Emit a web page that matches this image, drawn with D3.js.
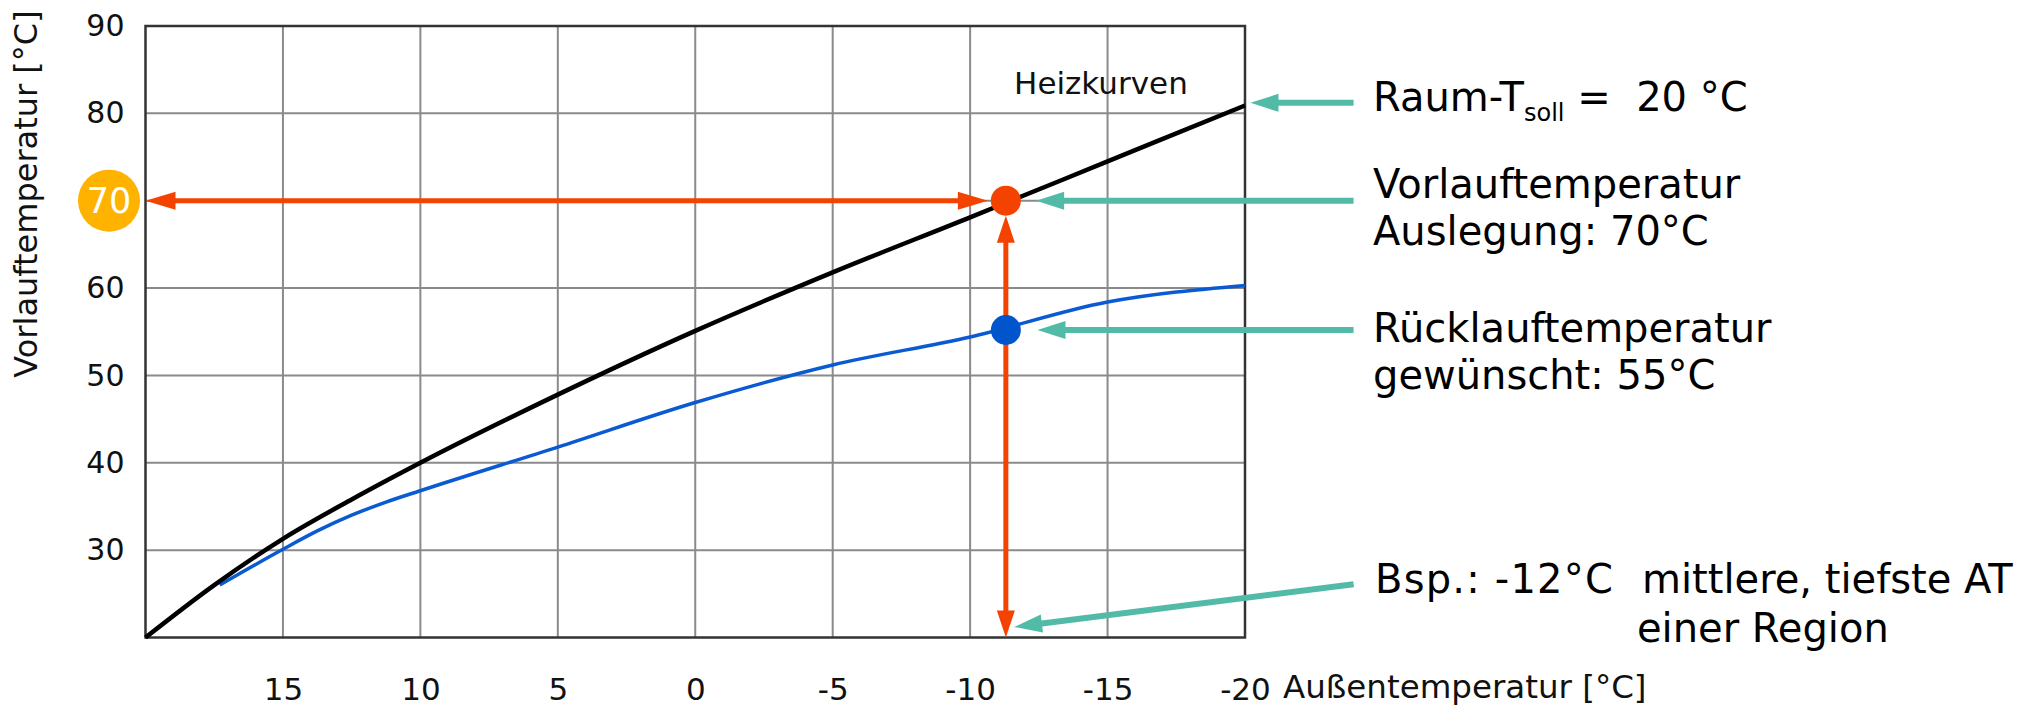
<!DOCTYPE html>
<html>
<head>
<meta charset="utf-8">
<script src="https://cdn.jsdelivr.net/npm/d3@7"></script>
<style>
  html, body { margin: 0; padding: 0; background: #fff; }
  svg { display: block; }
  text { font-family: "DejaVu Sans", Verdana, sans-serif; }
</style>
</head>
<body>
<svg id="chart" width="2040" height="707"></svg>
<script>
// ---- data ----
const xTicks = [15, 10, 5, 0, -5, -10, -15, -20];
const yTicks = [30, 40, 50, 60, 80, 90];
const xGrid = [15, 10, 5, 0, -5, -10, -15];
const yGrid = [30, 40, 50, 60, 70, 80];

// Heizkurve (Vorlauf) — black
const flowX = [20, 17.5, 15, 12.5, 10, 5, 0, -5, -10, -15, -20];
const flowY = [20, 26.0, 31.3, 35.8, 40.0, 47.8, 55.1, 61.8, 68.1, 74.5, 80.9];
// Rücklauf — blue
const returnX = [17.3, 15, 13.75, 12.5, 11.25, 10, 5, 0, -5, -10, -15, -20];
const returnY = [26.0, 30.1, 32.2, 34.0, 35.5, 36.8, 41.8, 46.9, 51.2, 54.4, 58.4, 60.3];

// design point
const designX = -11.3;
const designFlow = 70;
const designReturn = 55.2;
const badgeLabel = "70";

// annotation texts
const noteLines = [
  "Vorlauftemperatur", "Auslegung: 70°C",
  "Rücklauftemperatur", "gewünscht: 55°C",
  "Bsp.: -12°C", "mittlere, tiefste AT", "einer Region"
];

// ---- layout ----
const svg = d3.select("#chart");
const x = d3.scaleLinear().domain([20, -20]).range([145.5, 1245]);
const y = d3.scaleLinear().domain([20, 90]).range([637.5, 26]);

const gridColor = "#8a8a8a";
const frameColor = "#333";
const orange = "#f44200";
const teal = "#52bba8";
const blue = "#0a5ad2";

// grid
svg.append("g").selectAll("line").data(xGrid).join("line")
  .attr("x1", d => x(d)).attr("x2", d => x(d))
  .attr("y1", y(90)).attr("y2", y(20))
  .attr("stroke", gridColor).attr("stroke-width", 2);
svg.append("g").selectAll("line").data(yGrid).join("line")
  .attr("x1", x(20)).attr("x2", x(-20))
  .attr("y1", d => y(d)).attr("y2", d => y(d))
  .attr("stroke", gridColor).attr("stroke-width", 2);

// frame
svg.append("rect")
  .attr("x", x(20)).attr("y", y(90))
  .attr("width", x(-20) - x(20)).attr("height", y(20) - y(90))
  .attr("fill", "none").attr("stroke", frameColor).attr("stroke-width", 2.5);

// axes (labels only)
const yAxis = svg.append("g")
  .attr("transform", `translate(${x(20)},0)`)
  .call(d3.axisLeft(y).tickValues(yTicks).tickSize(0).tickPadding(21).tickFormat(d => String(d)));
yAxis.select(".domain").remove();
yAxis.selectAll("text").attr("font-size", 30).attr("fill", "#111")
  .attr("font-family", "DejaVu Sans");

const xAxis = svg.append("g")
  .attr("transform", `translate(0,${y(20)})`)
  .call(d3.axisBottom(x).tickValues(xTicks).tickSize(0).tickPadding(40).tickFormat(d => String(d)));
xAxis.select(".domain").remove();
xAxis.selectAll("text").attr("font-size", 31).attr("fill", "#111")
  .attr("font-family", "DejaVu Sans");

// axis titles
svg.append("text")
  .attr("transform", `translate(37,194) rotate(-90)`)
  .attr("text-anchor", "middle")
  .attr("font-size", 32).attr("fill", "#111")
  .text("Vorlauftemperatur [°C]");
svg.append("text")
  .attr("x", x(-20) + 38).attr("y", 698)
  .attr("font-size", 32.5).attr("fill", "#111")
  .text("Außentemperatur [°C]");

svg.append("text")
  .attr("x", x(-11.6)).attr("y", y(82.2))
  .attr("font-size", 31).attr("fill", "#111")
  .text("Heizkurven");

// curves
const line = d3.line().x(d => x(d[0])).y(d => y(d[1])).curve(d3.curveMonotoneX);
svg.append("path")
  .datum(returnX.map((v, i) => [v, returnY[i]]))
  .attr("d", line).attr("fill", "none")
  .attr("stroke", blue).attr("stroke-width", 3.5);
svg.append("path")
  .datum(flowX.map((v, i) => [v, flowY[i]]))
  .attr("d", line).attr("fill", "none")
  .attr("stroke", "#000").attr("stroke-width", 4.5);

// arrow helpers
function head(g, bx, by, tx, ty, color, hw) {
  const L = Math.hypot(tx - bx, ty - by);
  const px = -(ty - by) / L, py = (tx - bx) / L;
  g.append("path")
    .attr("d", `M${tx},${ty}L${bx + px * hw},${by + py * hw}L${bx - px * hw},${by - py * hw}Z`)
    .attr("fill", color);
}
function arrow(g, x1, y1, x2, y2, color, w, hl, hw, both) {
  const dx = x2 - x1, dy = y2 - y1;
  const L = Math.hypot(dx, dy);
  const ux = dx / L, uy = dy / L;
  const sx = both ? x1 + ux * (hl - 2) : x1, sy = both ? y1 + uy * (hl - 2) : y1;
  g.append("line")
    .attr("x1", sx).attr("y1", sy)
    .attr("x2", x2 - ux * (hl - 2)).attr("y2", y2 - uy * (hl - 2))
    .attr("stroke", color).attr("stroke-width", w);
  head(g, x2 - ux * hl, y2 - uy * hl, x2, y2, color, hw);
  if (both) head(g, x1 + ux * hl, y1 + uy * hl, x1, y1, color, hw);
}

const ann = svg.append("g");
const dotR = 15;
const px = x(designX);
// orange double arrows
arrow(ann, x(20), y(designFlow), px - dotR - 3, y(designFlow), orange, 5, 30, 9, true);
arrow(ann, px, y(20), px, y(designFlow) + dotR, orange, 5, 27, 9, true);

// dots
svg.append("circle").attr("cx", px).attr("cy", y(designFlow)).attr("r", dotR).attr("fill", orange);
svg.append("circle").attr("cx", px).attr("cy", y(designReturn)).attr("r", dotR).attr("fill", "#0055cc");

// teal arrows: [tailX, tailY, tipX, tipY] in data units
const tealArrows = [
  [-23.95, 81.2, -20.2, 81.2],
  [-23.95, designFlow, -12.4, designFlow],
  [-23.95, designReturn, -12.45, designReturn],
  [-23.95, 26.1, -11.6, 21.2]
];
const tg = svg.append("g");
tealArrows.forEach(a => arrow(tg, x(a[0]), y(a[1]), x(a[2]), y(a[3]), teal, 6, 28, 9, false));

// right-hand texts
const tx = 1373;
const t1 = svg.append("text").attr("x", tx).attr("y", 111)
  .attr("font-size", 40).attr("fill", "#000")
  .style("white-space", "pre");
t1.append("tspan").text("Raum-T");
t1.append("tspan").attr("font-size", 24).attr("dy", 10).text("soll");
t1.append("tspan").attr("dy", -10).text(" =  20 °C");

const noteY = [198, 245, 342, 389, 593, 593, 642];
const noteX = [tx, tx, tx, tx, 1375, 1642, 1637];
const noteSpacing = [0, 0, 0, 0, 1.2, 0, 0];
svg.append("g").selectAll("text").data(noteLines).join("text")
  .attr("x", (d, i) => noteX[i]).attr("y", (d, i) => noteY[i])
  .attr("font-size", 40).attr("fill", "#000")
  .attr("letter-spacing", (d, i) => noteSpacing[i])
  .style("white-space", "pre")
  .text(d => d);

// badge
const badge = svg.append("g");
badge.append("circle").attr("cx", 109).attr("cy", y(designFlow)).attr("r", 31).attr("fill", "#ffb300");
badge.append("text").attr("x", 109).attr("y", y(designFlow)).attr("dy", "0.36em")
  .attr("text-anchor", "middle").attr("font-size", 35).attr("fill", "#fff")
  .text(badgeLabel);
</script>
</body>
</html>
